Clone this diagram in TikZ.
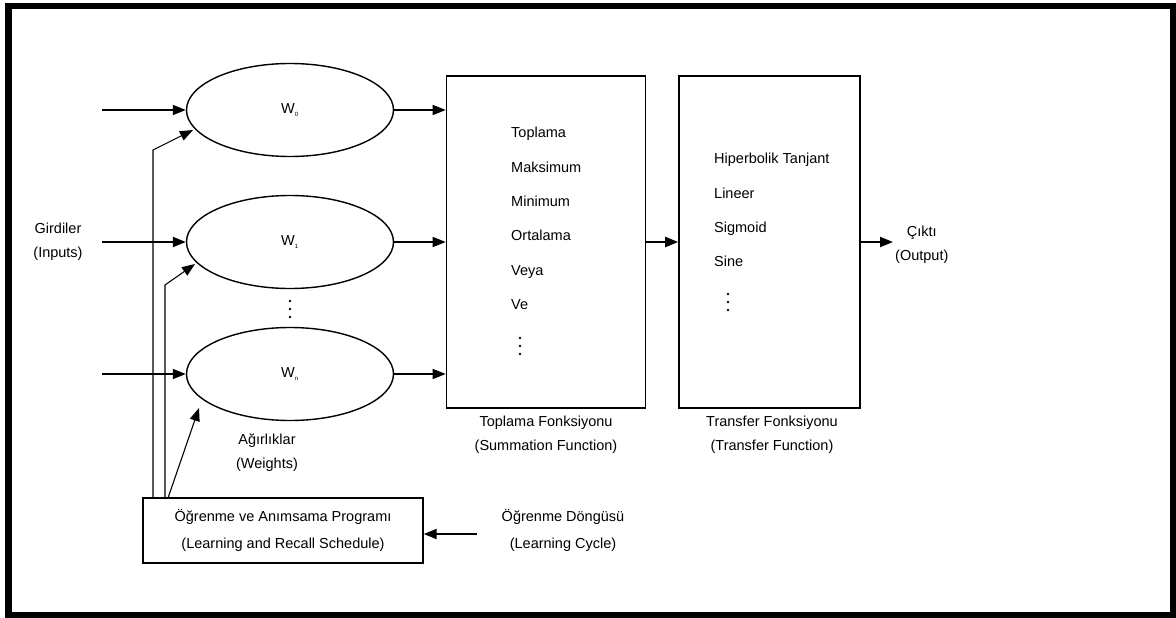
\documentclass[tikz,border=0pt]{standalone}
\usepackage{fontspec}
\setmainfont{Liberation Sans}
\usetikzlibrary{arrows.meta,shapes.geometric}
\begin{document}
\begin{tikzpicture}[x=1pt,y=-1pt,
  every node/.style={font=\fontsize{14.5}{17}\selectfont,inner sep=0pt},
  wel/.style={draw,ellipse,line width=1.4pt,minimum width=207pt,minimum height=93pt},
  fbox/.style={draw,line width=1.6pt,rectangle},
  arr/.style={line width=1.4pt,-{Triangle[length=13pt,width=10pt]}},
  thinline/.style={line width=1.1pt},
  lbl/.style={align=center,font=\fontsize{14.5}{24}\selectfont},
  dotc/.style={fill,circle,inner sep=0pt,minimum size=2.6pt}]
\useasboundingbox (0,0) rectangle (1176,618);
\draw[line width=6.5pt] (8.5,6) rectangle (1173,615);
% ellipses
\node[wel] (w0) at (290,110) {W\textsubscript{\fontsize{6}{6}\selectfont 0}};
\node[wel] (w1) at (290,242) {W\textsubscript{\fontsize{6}{6}\selectfont 1}};
\node[wel] (wn) at (290,374) {W\textsubscript{\fontsize{6}{6}\selectfont n}};
\foreach \yy [count=\k] in {301,309,317} \node[dotc] (vd\k) at (290,\yy) {};
% input starts
\coordinate (i0) at (102,110);
\coordinate (i1) at (102,242);
\coordinate (in) at (102,374);
\draw[arr] (i0) -- (w0.west);
\draw[arr,line width=2.2pt] (i1) -- (w1.west);
\draw[arr] (in) -- (wn.west);
\node[lbl] (inputs) at (58,242) {Girdiler\\(Inputs)};
% summation box
\node[fbox,minimum width=199pt,minimum height=332pt] (sum) at (546,242) {};
\node[anchor=north west,align=left,font=\fontsize{14.5}{34.4}\selectfont] (sumlist) at (511,127)
 {Toplama\\Maksimum\\Minimum\\Ortalama\\Veya\\Ve};
\foreach \yy [count=\k] in {338,346,354} \node[dotc] (sd\k) at (520,\yy) {};
\draw[arr] (w0.east) -- (sum.west |- w0.east);
\draw[arr] (w1.east) -- (sum.west |- w1.east);
\draw[arr] (wn.east) -- (sum.west |- wn.east);
\node[lbl] (sumlbl) at (546,435) {Toplama Fonksiyonu\\(Summation Function)};
% transfer box
\node[fbox,minimum width=181pt,minimum height=332pt] (tr) at (769.5,242) {};
\node[anchor=north west,align=left,font=\fontsize{14.5}{34.4}\selectfont] (trlist) at (714,153)
 {Hiperbolik Tanjant\\Lineer\\Sigmoid\\Sine};
\foreach \yy [count=\k] in {294,302,310} \node[dotc] (td\k) at (728,\yy) {};
\draw[arr,line width=2.2pt] (sum.east) -- (tr.west);
\node[lbl] (trlbl) at (772,435) {Transfer Fonksiyonu\\(Transfer Function)};
% output
\node[lbl,anchor=west] (out) at (895,245) {Çıktı\\(Output)};
\coordinate (oe) at (893,242);
\draw[arr,line width=2.2pt] (tr.east |- oe) -- (oe);
% weights label
\node[lbl] (wlbl) at (267,453) {Ağırlıklar\\(Weights)};
% learning box
\node[fbox,line width=1.4pt,minimum width=280pt,minimum height=65pt,lbl,font=\fontsize{14.5}{27}\selectfont] (learn) at (283,530.5) {Öğrenme ve Anımsama Programı\\(Learning and Recall Schedule)};
\node[lbl,font=\fontsize{14.5}{27}\selectfont] (cycle) at (563,530) {Öğrenme Döngüsü\\(Learning Cycle)};
\coordinate (c0) at (477,534);
\draw[arr,line width=1.8pt] (c0) -- (learn.east |- c0);
% feedback lines
\coordinate (b0) at (153,150);
\coordinate (b1) at (165,285);
\draw[thinline,-{Triangle[length=13pt,width=10pt]}] (learn.north -| b0) -- (b0) -- (193,130);
\draw[thinline,-{Triangle[length=13pt,width=10pt]}] (learn.north -| b1) -- (b1) -- (195,264);
\draw[thinline,-{Triangle[length=13pt,width=10pt]}] (168,498) -- (199,408);
\end{tikzpicture}
\end{document}
